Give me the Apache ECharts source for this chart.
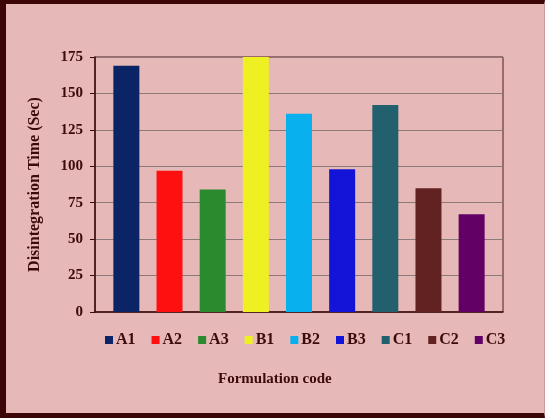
<!DOCTYPE html>
<html>
<head>
<meta charset="utf-8">
<script src="https://cdn.jsdelivr.net/npm/echarts@6/dist/echarts.min.js"></script>
<style>
  html, body { margin: 0; padding: 0; background: #e6b8b8; }
  #frame {
    position: absolute; left: 0; top: 0; width: 545px; height: 418px;
    box-sizing: border-box;
    border-top: 4px solid #3c0606; border-left: 6px solid #3c0606;
    border-bottom: 5px solid #3c0606; border-right: 1px solid #c89a9a;
  }
  #chart { position: absolute; left: 0; top: 0; width: 545px; height: 418px; }
</style>
</head>
<body>
<div id="frame"></div>
<div id="chart"></div>
<script>
// 数据
var codes = ['A1', 'A2', 'A3', 'B1', 'B2', 'B3', 'C1', 'C2', 'C3'];
var times = [169, 97, 84, 175, 136, 98, 142, 85, 67];
var barColors = ['#0b2466', '#ff1010', '#2a8a2e', '#eef022', '#08b0ee', '#1414d8', '#22606e', '#622222', '#620066'];
var yTicks = [0, 25, 50, 75, 100, 125, 150, 175];

var myChart = echarts.init(document.getElementById('chart'));
var fontFam = '"Liberation Serif", "DejaVu Serif", serif';
var dark = '#3c0a0a';

// 每个编号一个系列，同一个分类里并排
var seriesList = codes.map(function (c, i) {
  return {
    name: c,
    type: 'bar',
    barWidth: 26,
    barGap: '66%',
    itemStyle: { color: barColors[i] },
    data: [times[i]]
  };
});

var option = {
  backgroundColor: 'transparent',
  animation: false,
  color: barColors,
  grid: { left: 95, right: 42, top: 57, bottom: 106, show: true, borderColor: '#5a1a1a', borderWidth: 1, backgroundColor: 'transparent' },
  legend: {
    data: codes,
    left: 100, top: 327,
    itemWidth: 8, itemHeight: 8, itemGap: 16,
    icon: 'rect',
    textStyle: { fontFamily: fontFam, fontWeight: 'bold', fontSize: 16, color: dark, padding: [0, 0, 0, -2] }
  },
  xAxis: {
    type: 'category',
    data: ['Formulation code'],
    axisLine: { lineStyle: { color: dark, width: 1.5 } },
    axisTick: { show: false },
    axisLabel: { show: false }
  },
  yAxis: {
    type: 'value',
    min: 0, max: 175, interval: 25,
    name: 'Disintegration Time (Sec)',
    nameLocation: 'middle',
    nameGap: 52,
    nameTextStyle: { fontFamily: fontFam, fontWeight: 'bold', fontSize: 16, color: dark },
    axisLine: { show: true, lineStyle: { color: dark, width: 1.5 } },
    axisTick: { show: true, length: 5, lineStyle: { color: dark } },
    axisLabel: {
      fontFamily: fontFam, fontWeight: 'bold', fontSize: 15, color: dark, margin: 12,
      formatter: function (v) { return yTicks.indexOf(v) >= 0 ? String(v) : ''; }
    },
    splitLine: { lineStyle: { color: '#8c7a7a', width: 1 } }
  },
  graphic: [{
    type: 'text',
    left: 218, top: 372,
    style: { text: 'Formulation code', font: 'bold 15px ' + fontFam, fill: dark }
  }],
  series: seriesList
};

myChart.setOption(option);
</script>
</body>
</html>
